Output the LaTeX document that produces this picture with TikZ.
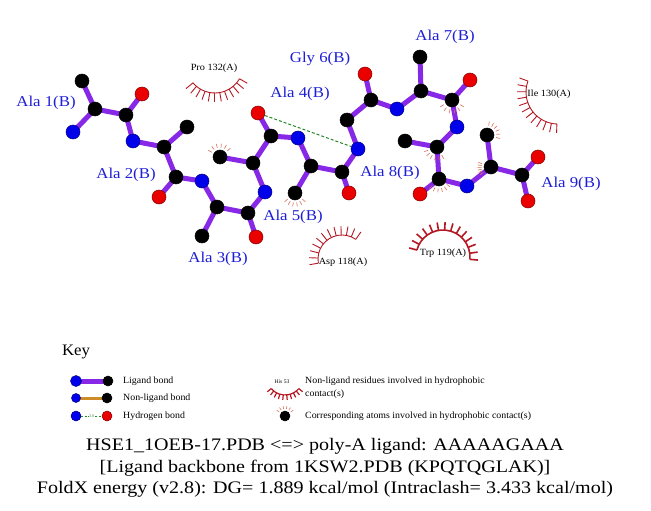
\documentclass[tikz,border=0pt]{standalone}
\usepackage{fontspec}
\usepackage{graphicx}
\setmainfont{Liberation Serif}
\usetikzlibrary{calc}
\pgfdeclarelayer{back}
\pgfdeclarelayer{bg}
\pgfsetlayers{back,bg,main}
\definecolor{lig}{RGB}{135,40,230}
\definecolor{nlig}{RGB}{205,140,40}
\definecolor{hbc}{RGB}{40,135,40}
\definecolor{lab}{RGB}{30,30,215}
\definecolor{arcred}{RGB}{180,25,35}
\definecolor{spk}{RGB}{215,110,90}
\definecolor{atN}{RGB}{0,0,235}
\definecolor{atO}{RGB}{235,0,0}
\tikzset{
  atom/.style={circle, inner sep=0pt, minimum size=14pt, line width=0.5pt},
  Cat/.style={atom, fill=black, draw=black},
  Nat/.style={atom, fill=atN, draw=atN!55!black},
  Oat/.style={atom, fill=atO, draw=atO!55!black},
  katom/.style={minimum size=10pt},
  bond/.style={line width=5pt, lig},
  nlbond/.style={line width=3pt, nlig},
  hbond/.style={line width=1pt, hbc, dash pattern=on 3pt off 2pt},
  reslab/.style={text=lab, font=\fontsize{15}{18}\selectfont, inner sep=0pt},
  protlab/.style={text=black, font=\fontsize{9.5}{11}\selectfont, inner sep=0pt},
  keytxt/.style={text=black, font=\fontsize{9.5}{11}\selectfont, inner sep=0pt, anchor=west},
  bottxt/.style={text=black, font=\fontsize{17.6}{20}\selectfont, inner sep=0pt, anchor=base},
  spkline/.style={spk, line width=0.6pt},
}
\newcommand\wide[2]{\scalebox{#1}[1]{#2}}
% hydrophobic contact spikes round an atom: node, start, end angle
\newcommand\hspikes[3]{%
  \foreach \i in {0,...,5}{%
    \pgfmathsetmacro\ang{#2+\i*(#3-#2)/5}%
    \draw[spkline] ($(#1)+(\ang:9.5pt)$) -- ($(#1)+(\ang:13.5pt)$);}}
% residue arc: centre x, centre y, radius, start, end, number of spikes, spike length, style
\newcommand\resarc[8]{%
  \draw[arcred,#8] ([shift={(#4:#3pt)}]#1,#2) arc[start angle=#4, end angle=#5, radius=#3pt];
  \foreach \i in {0,...,#6}{%
    \pgfmathsetmacro\ang{#4+\i*(#5-#4)/#6}%
    \pgfmathsetmacro\rr{#3+#7}%
    \draw[arcred,#8] ([shift={(\ang:#3pt)}]#1,#2) -- ([shift={(\ang:\rr pt)}]#1,#2);}}
\begin{document}
\begin{tikzpicture}[x=1pt,y=-1pt]
\useasboundingbox (0,0) rectangle (651,511);
\begin{pgfonlayer}{back}
\fill[white] (0,0) rectangle (651,511);
\end{pgfonlayer}
% atoms
\node[Nat] (n1) at (73,132) {};
\node[Cat] (ca1) at (95,109) {};
\node[Cat] (cb1) at (82,81) {};
\node[Cat] (c1) at (126,115) {};
\node[Oat] (o1) at (142,94) {};
\node[Nat] (n2) at (133,141) {};
\node[Cat] (ca2) at (164,147) {};
\node[Cat] (cb2) at (187,127) {};
\node[Cat] (c2) at (176,177) {};
\node[Oat] (o2) at (159,197) {};
\node[Nat] (n3) at (202,181) {};
\node[Cat] (ca3) at (217,207) {};
\node[Cat] (cb3) at (202,236) {};
\node[Cat] (c3) at (248,213) {};
\node[Oat] (o3) at (256,237) {};
\node[Nat] (n4) at (265,192) {};
\node[Cat] (ca4) at (253,163) {};
\node[Cat] (cb4) at (220,157) {};
\node[Cat] (c4) at (271,136) {};
\node[Oat] (o4) at (258,113) {};
\node[Nat] (n5) at (298,138) {};
\node[Cat] (ca5) at (311,166) {};
\node[Cat] (cb5) at (295,193) {};
\node[Cat] (c5) at (342,172) {};
\node[Oat] (o5) at (349,193) {};
\node[Nat] (n6) at (358,149) {};
\node[Cat] (ca6) at (347,120) {};
\node[Cat] (c6) at (371,100) {};
\node[Oat] (o6) at (365,74) {};
\node[Nat] (n7) at (397,109) {};
\node[Cat] (ca7) at (421,91) {};
\node[Cat] (cb7) at (420,57) {};
\node[Cat] (c7) at (452,100) {};
\node[Oat] (o7) at (470,80) {};
\node[Nat] (n8) at (457,127) {};
\node[Cat] (ca8) at (437,147) {};
\node[Cat] (cb8) at (405,141) {};
\node[Cat] (c8) at (439,179) {};
\node[Oat] (o8) at (420,194) {};
\node[Nat] (n9) at (467,186) {};
\node[Cat] (ca9) at (491,167) {};
\node[Cat] (cb9) at (487,135) {};
\node[Cat] (c9) at (522,175) {};
\node[Oat] (o9) at (538,157) {};
\node[Oat] (oxt) at (528,201) {};
% bonds
\begin{pgfonlayer}{bg}
\foreach \a/\b in {n1/ca1,ca1/cb1,ca1/c1,c1/o1,c1/n2,n2/ca2,ca2/cb2,ca2/c2,c2/o2,c2/n3,
  n3/ca3,ca3/cb3,ca3/c3,c3/o3,c3/n4,n4/ca4,ca4/cb4,ca4/c4,c4/o4,c4/n5,n5/ca5,ca5/cb5,
  ca5/c5,c5/o5,c5/n6,n6/ca6,ca6/c6,c6/o6,c6/n7,n7/ca7,ca7/cb7,ca7/c7,c7/o7,c7/n8,
  n8/ca8,ca8/cb8,ca8/c8,c8/o8,c8/n9,n9/ca9,ca9/cb9,ca9/c9,c9/o9,c9/oxt}
  \draw[bond] (\a.center) -- (\b.center);
\end{pgfonlayer}
\draw[hbond] (o4) -- (n6);
% hydrophobic contacts on atoms
\hspikes{cb4}{40}{150}
\hspikes{cb5}{-140}{-40}
\hspikes{c7}{-150}{-30}
\hspikes{ca8}{-160}{-60}
\hspikes{c8}{-135}{-35}
\hspikes{ca9}{160}{215}
\hspikes{cb9}{-15}{80}
% residue labels
\node[reslab] (l1) at (46,103) {\wide{1.12}{Ala 1(B)}};
\node[reslab] (l2) at (126,175) {\wide{1.12}{Ala 2(B)}};
\node[reslab] (l3) at (218,259) {\wide{1.12}{Ala 3(B)}};
\node[reslab] (l4) at (300,94) {\wide{1.12}{Ala 4(B)}};
\node[reslab] (l5) at (293,217) {\wide{1.12}{Ala 5(B)}};
\node[reslab] (l6) at (320,59) {\wide{1.12}{Gly 6(B)}};
\node[reslab] (l7) at (445,37) {\wide{1.12}{Ala 7(B)}};
\node[reslab] (l8) at (390,173) {\wide{1.12}{Ala 8(B)}};
\node[reslab] (l9) at (571,184) {\wide{1.12}{Ala 9(B)}};
% protein residues in hydrophobic contact
\resarc{214.8}{64.5}{28.5}{-140}{-30}{11}{9}{line width=0.9pt}
\node[protlab] (p132) at (214,68) {\wide{1.08}{Pro 132(A)}};
\resarc{558}{92}{32}{160}{268}{11}{9}{line width=0.9pt}
\node[protlab] (p130) at (549,94) {\wide{1.08}{Ile 130(A)}};
\resarc{342}{259}{24}{55}{190}{11}{9}{line width=0.9pt}
\node[protlab] (p118) at (343,262) {\wide{1.08}{Asp 118(A)}};
\resarc{443}{257}{27}{-5}{165}{13}{8}{line width=1.6pt}
\node[protlab] (p119) at (443,253) {\wide{1.08}{Trp 119(A)}};
% key
\node[text=black, font=\fontsize{16}{18}\selectfont, inner sep=0pt] (key) at (76,352) {\wide{1.05}{Key}};
\node[Nat, katom, minimum size=11pt] (k1a) at (76,381) {};
\node[Cat, katom] (k1b) at (108,381) {};
\node[Nat, katom, minimum size=9pt] (k2a) at (76,398) {};
\node[Cat, katom] (k2b) at (107,398) {};
\node[Nat, katom] (k3a) at (76,416) {};
\node[Oat, katom] (k3b) at (107,416) {};
\begin{pgfonlayer}{bg}
\draw[bond] (k1a.center) -- (k1b.center);
\draw[nlbond] (k2a.center) -- (k2b.center);
\end{pgfonlayer}
\draw[hbond, line width=0.8pt, dash pattern=on 2pt off 1.5pt] (k3a) -- node[fill=white, inner sep=0.5pt, text=hbc, font=\fontsize{4}{4}\selectfont] (k3l) {3.0} (k3b);
\node[keytxt] (t1) at (123,381) {\wide{1.04}{Ligand bond}};
\node[keytxt] (t2) at (123,398) {\wide{1.04}{Non-ligand bond}};
\node[keytxt] (t3) at (123,416) {\wide{1.04}{Hydrogen bond}};
\node[protlab, font=\fontsize{5.5}{6}\selectfont] (his) at (282,382) {His 53};
\resarc{285}{377}{18}{-140}{-40}{9}{5}{line width=1.2pt}
\node[keytxt] (t4) at (305,381) {\wide{1.04}{Non-ligand residues involved in hydrophobic}};
\node[keytxt] (t5) at (305,394) {\wide{1.04}{contact(s)}};
\node[Cat, katom] (k4) at (285,416) {};
\foreach \i in {0,...,5}{%
  \pgfmathsetmacro\ang{35+\i*110/5}%
  \draw[spkline] ($(k4)+(\ang:7pt)$) -- ($(k4)+(\ang:10pt)$);}
\node[keytxt] (t6) at (305,416) {\wide{1.04}{Corresponding atoms involved in hydrophobic contact(s)}};
% bottom text
\node[bottxt] (b1) at (325,450) {\wide{1.14}{HSE1\_1OEB-17.PDB <=> poly-A ligand: AAAAAGAAA}};
\node[bottxt] (b2) at (325,472) {\wide{1.14}{[Ligand backbone from 1KSW2.PDB (KPQTQGLAK)]}};
\node[bottxt] (b3) at (325,493) {\wide{1.14}{FoldX energy (v2.8): DG= 1.889 kcal/mol (Intraclash= 3.433 kcal/mol)}};
\end{tikzpicture}
\end{document}
